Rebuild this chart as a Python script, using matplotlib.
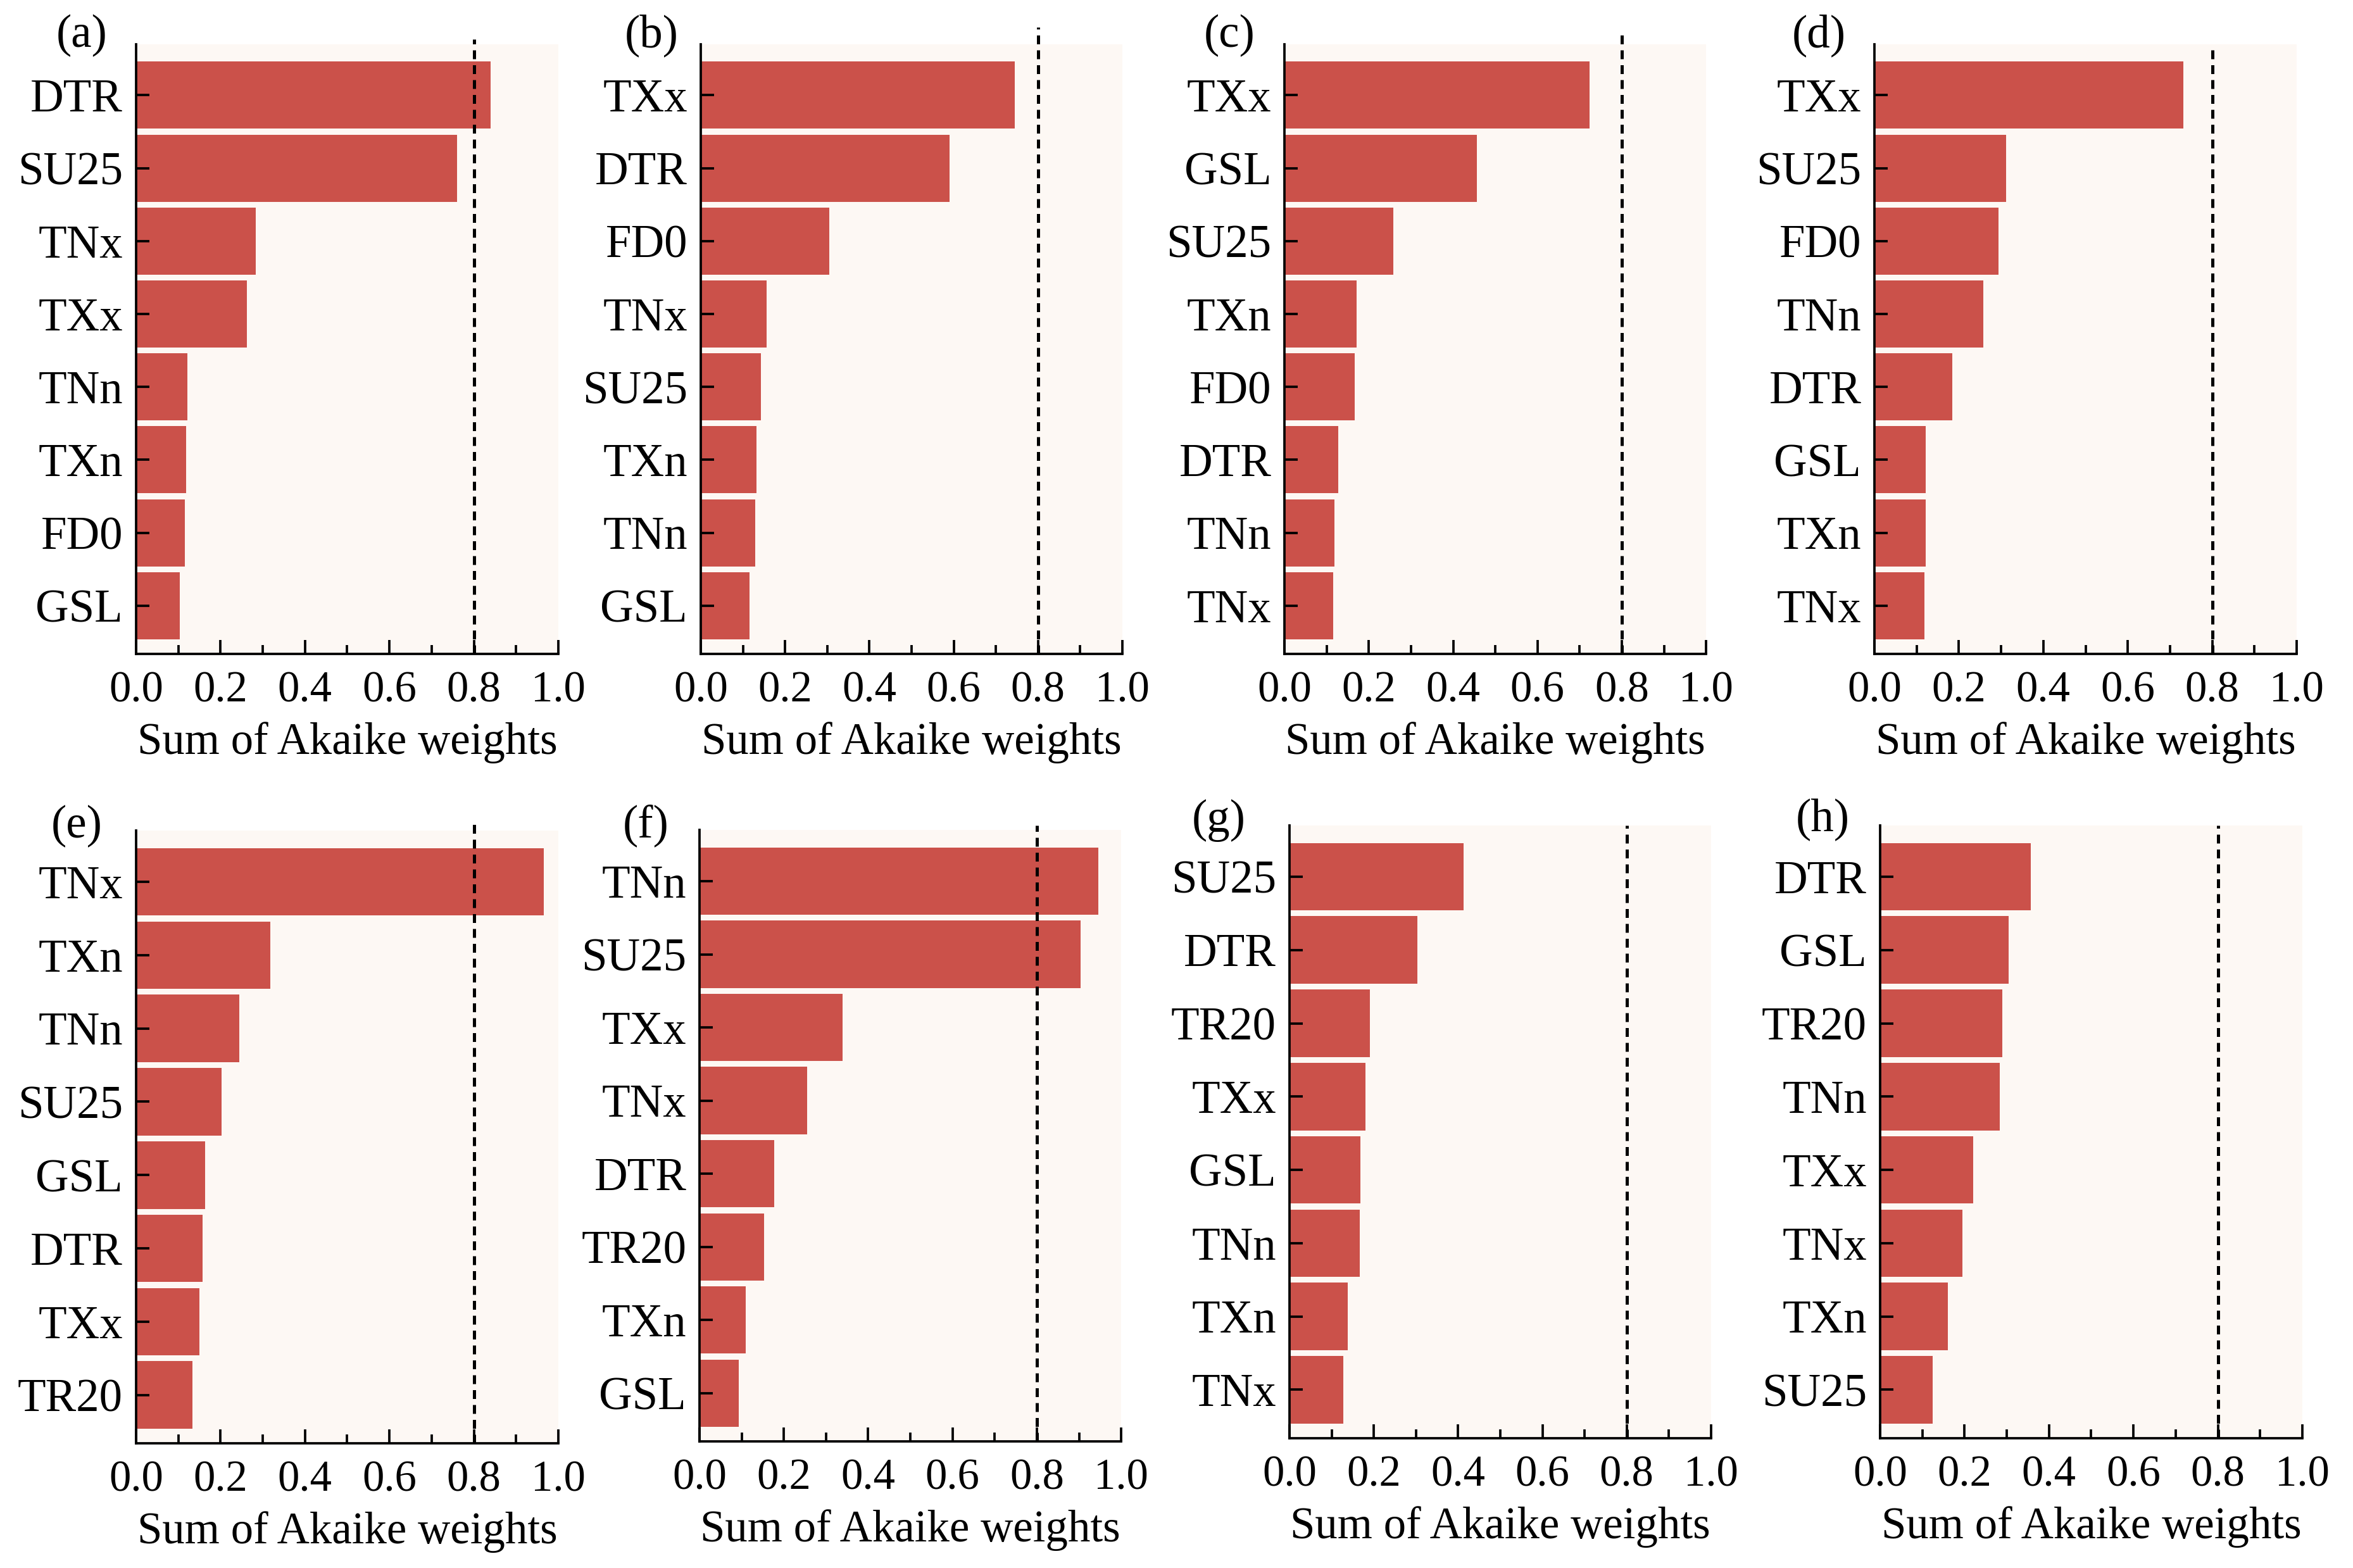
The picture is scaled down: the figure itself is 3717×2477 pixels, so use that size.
import numpy as np
import matplotlib
matplotlib.use('Agg')
import matplotlib.pyplot as plt
from matplotlib.ticker import MultipleLocator

# global font: Times-like serif
plt.rcParams['font.family'] = ['Liberation Serif', 'DejaVu Serif']

# ===== data (top to bottom in each panel) =====
labels_a = ['DTR', 'SU25', 'TNx', 'TXx', 'TNn', 'TXn', 'FD0', 'GSL']
values_a = [0.840, 0.760, 0.284, 0.263, 0.122, 0.118, 0.115, 0.104]

labels_b = ['TXx', 'DTR', 'FD0', 'TNx', 'SU25', 'TXn', 'TNn', 'GSL']
values_b = [0.745, 0.590, 0.305, 0.157, 0.142, 0.132, 0.129, 0.115]

labels_c = ['TXx', 'GSL', 'SU25', 'TXn', 'FD0', 'DTR', 'TNn', 'TNx']
values_c = [0.724, 0.456, 0.258, 0.171, 0.167, 0.127, 0.118, 0.115]

labels_d = ['TXx', 'SU25', 'FD0', 'TNn', 'DTR', 'GSL', 'TXn', 'TNx']
values_d = [0.731, 0.312, 0.294, 0.258, 0.184, 0.121, 0.121, 0.118]

labels_e = ['TNx', 'TXn', 'TNn', 'SU25', 'GSL', 'DTR', 'TXx', 'TR20']
values_e = [0.966, 0.318, 0.245, 0.203, 0.164, 0.157, 0.150, 0.133]

labels_f = ['TNn', 'SU25', 'TXx', 'TNx', 'DTR', 'TR20', 'TXn', 'GSL']
values_f = [0.945, 0.903, 0.339, 0.255, 0.177, 0.153, 0.110, 0.093]

labels_g = ['SU25', 'DTR', 'TR20', 'TXx', 'GSL', 'TNn', 'TXn', 'TNx']
values_g = [0.413, 0.304, 0.191, 0.180, 0.169, 0.167, 0.138, 0.127]

labels_h = ['DTR', 'GSL', 'TR20', 'TNn', 'TXx', 'TNx', 'TXn', 'SU25']
values_h = [0.357, 0.305, 0.290, 0.283, 0.220, 0.195, 0.160, 0.125]

panel_names = ['(a)', '(b)', '(c)', '(d)', '(e)', '(f)', '(g)', '(h)']
threshold = 0.8

# ===== layout (figure fractions) =====
axes_rects = [
    [0.0578, 0.583, 0.1795, 0.3888],
    [0.2978, 0.583, 0.1792, 0.3888],
    [0.5459, 0.583, 0.1792, 0.3888],
    [0.7966, 0.583, 0.1795, 0.3888],
    [0.0578, 0.0795, 0.1795, 0.3908],
    [0.2973, 0.0807, 0.1792, 0.3900],
    [0.5480, 0.0828, 0.1792, 0.3908],
    [0.7990, 0.0828, 0.1795, 0.3908],
]
label_x = [-0.128, -0.117, -0.13, -0.132, -0.14, -0.128, -0.168, -0.135]
label_y = [0.996, 0.996, 0.996, 0.996, 0.988, 0.988, 0.99, 0.99]
dash_top = [1.008, 1.028, 1.024, 0.996, 1.012, 1.007, 1.0, 1.0]

bar_color = '#CB514A'
bg_color = '#FDF8F4'


def draw_panel(ax, labels, values, name, lx, ly, dtop):
    ax.set_facecolor(bg_color)
    for line in ['right', 'top']:
        ax.spines[line].set_visible(False)
    for line in ['left', 'bottom']:
        ax.spines[line].set_linewidth(0.9)
    y = np.arange(len(labels))
    ax.barh(y, values, height=0.92, color=bar_color, edgecolor='none')
    # threshold line
    ax.axvline(threshold, ymin=0, ymax=dtop, color='black', lw=1.2,
               dashes=(2.8, 1.9), clip_on=False)
    ax.set_xlim(0, 1.0)
    ax.set_ylim(7.66, -0.7)
    ax.set_yticks(y)
    ax.set_yticklabels(labels, fontsize=17.5)
    ax.xaxis.set_major_locator(MultipleLocator(0.2))
    ax.xaxis.set_minor_locator(MultipleLocator(0.1))
    ax.xaxis.set_major_formatter(plt.FuncFormatter(lambda v, p: '%.1f' % v))
    ax.tick_params(axis='x', which='major', direction='in', length=5.2,
                   width=0.9, labelsize=16.5, pad=6.5)
    ax.tick_params(axis='x', which='minor', direction='in', length=3.4,
                   width=0.9)
    ax.tick_params(axis='y', direction='in', length=5, width=0.9, pad=5)
    ax.set_xlabel('Sum of Akaike weights', fontsize=17, labelpad=4)
    ax.text(lx, ly, name, transform=ax.transAxes, ha='center',
            va='baseline', fontsize=17.5)


fig = plt.figure(figsize=(3717 / 300, 2477 / 300), dpi=300)
all_labels = [labels_a, labels_b, labels_c, labels_d,
              labels_e, labels_f, labels_g, labels_h]
all_values = [values_a, values_b, values_c, values_d,
              values_e, values_f, values_g, values_h]
for i in range(8):
    ax = fig.add_axes(axes_rects[i])
    draw_panel(ax, all_labels[i], all_values[i], panel_names[i],
               label_x[i], label_y[i], dash_top[i])

fig.savefig('out.png', dpi=300, facecolor='white')
